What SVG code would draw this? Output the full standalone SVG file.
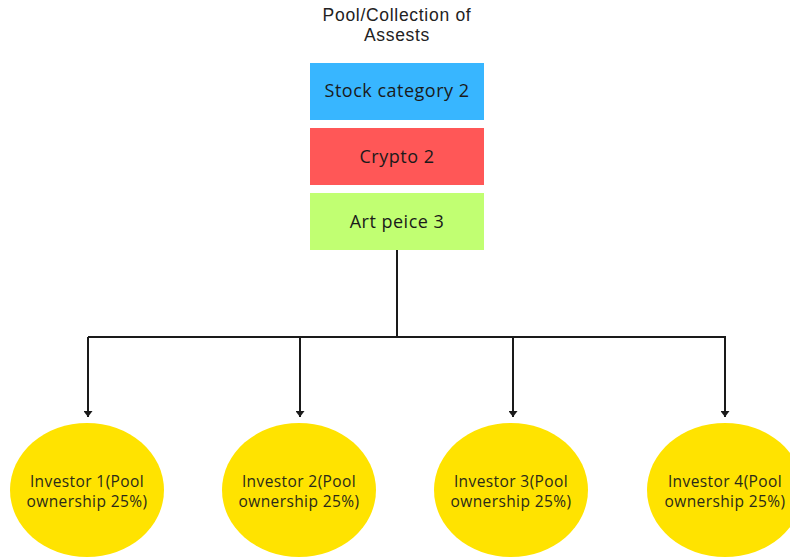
<svg xmlns="http://www.w3.org/2000/svg" width="790" height="559" viewBox="0 0 790 559">
<style>
.t{font-family:"Open Sans","Liberation Sans",sans-serif;fill:#1a1a1a;text-anchor:middle}
.title{font-family:"Liberation Sans",Arial,sans-serif;font-size:17.5px;letter-spacing:0.7px;fill:#222}
.box{font-size:18px;letter-spacing:0.5px}
.inv{font-size:15.5px;letter-spacing:0.4px;fill:#2a2a1a}
.ell{fill:#FFE300}
.conn{stroke:#1a1a1a;stroke-width:2;fill:none}
</style>
<defs>
<marker id="ah" markerWidth="9" markerHeight="7" refX="4.5" refY="6" orient="0" markerUnits="userSpaceOnUse" viewBox="0 0 9 7">
<path d="M0,0 L9,0 L4.5,6 Z" fill="#1a1a1a"/>
</marker>
</defs>
<rect width="790" height="559" fill="#fff"/>
<g id="title">
<text class="t title" x="397" y="21">Pool/Collection of</text>
<text class="t title" x="397" y="41">Assests</text>
</g>
<g id="stock">
<rect x="310" y="63" width="174" height="57" fill="#38B6FF"/>
<text class="t box" x="397" y="97">Stock category 2</text>
</g>
<g id="crypto">
<rect x="310" y="128" width="174" height="57" fill="#FF5757"/>
<text class="t box" x="397" y="163">Crypto 2</text>
</g>
<g id="art">
<rect x="310" y="193" width="174" height="57" fill="#C1FF72"/>
<text class="t box" x="397" y="228">Art peice 3</text>
</g>
<g id="connectors">
<path class="conn" d="M397,250 V337 M88,337 H726"/>
<path class="conn" d="M88,337 V417" marker-end="url(#ah)"/>
<path class="conn" d="M300,337 V417" marker-end="url(#ah)"/>
<path class="conn" d="M513,337 V417" marker-end="url(#ah)"/>
<path class="conn" d="M725,337 V417" marker-end="url(#ah)"/>
</g>
<g id="investor1">
<ellipse class="ell" cx="87" cy="490" rx="77" ry="67"/>
<text class="t inv" x="87" y="487">Investor 1(Pool</text>
<text class="t inv" x="87" y="507">ownership 25%)</text>
</g>
<g id="investor2">
<ellipse class="ell" cx="299" cy="490" rx="77" ry="67"/>
<text class="t inv" x="299" y="487">Investor 2(Pool</text>
<text class="t inv" x="299" y="507">ownership 25%)</text>
</g>
<g id="investor3">
<ellipse class="ell" cx="511" cy="490" rx="77" ry="67"/>
<text class="t inv" x="511" y="487">Investor 3(Pool</text>
<text class="t inv" x="511" y="507">ownership 25%)</text>
</g>
<g id="investor4">
<ellipse class="ell" cx="725" cy="490" rx="78" ry="67"/>
<text class="t inv" x="725" y="487">Investor 4(Pool</text>
<text class="t inv" x="725" y="507">ownership 25%)</text>
</g>
</svg>
